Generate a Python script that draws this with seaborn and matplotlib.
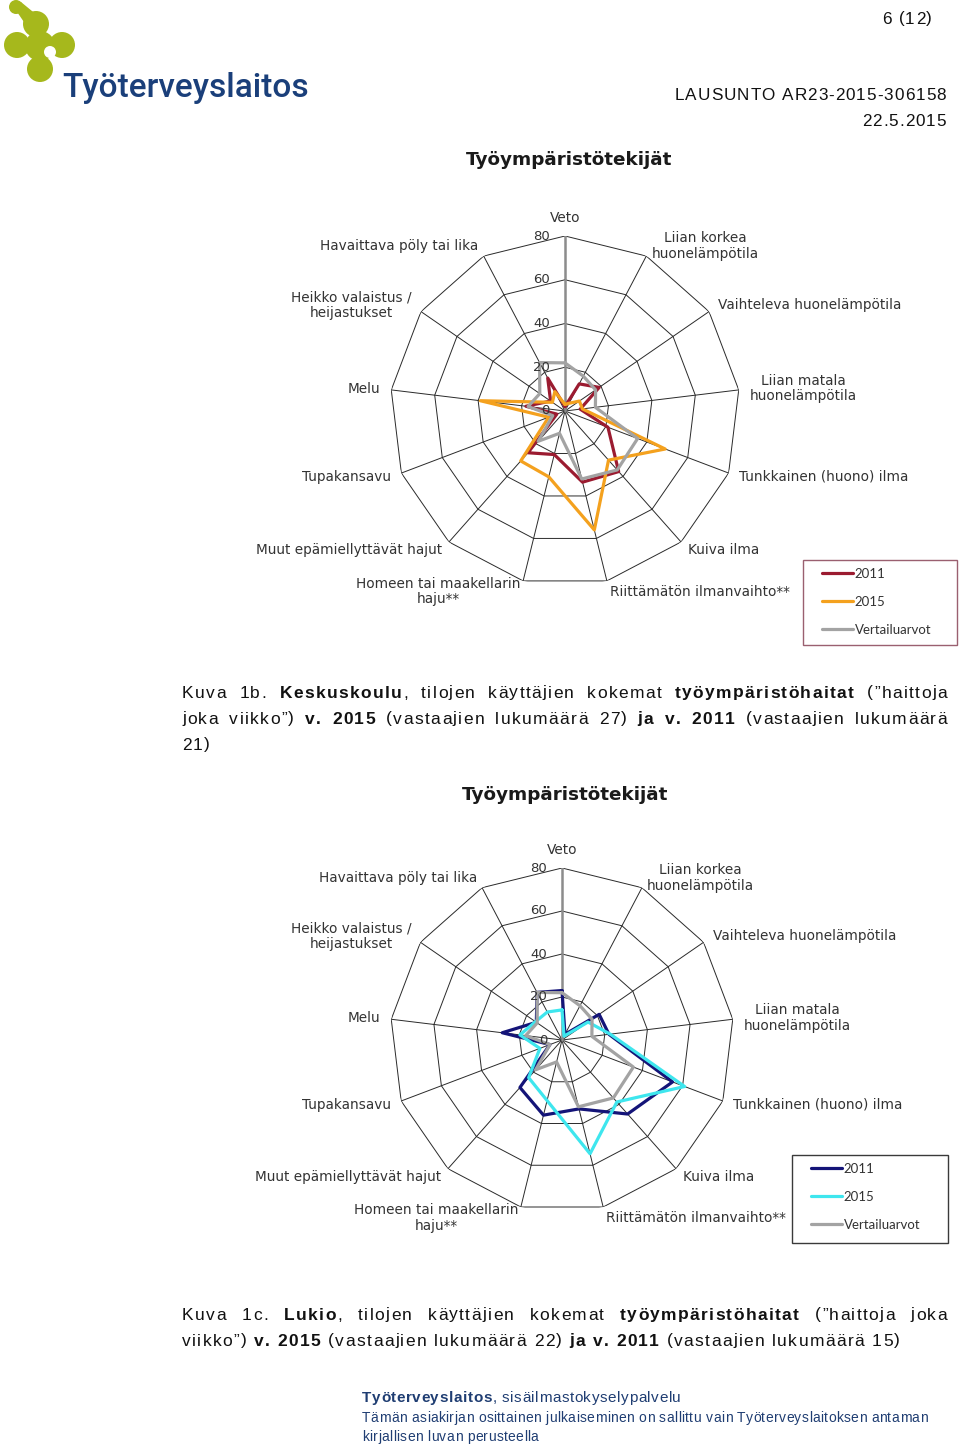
import numpy as np
import pandas as pd
import matplotlib
matplotlib.use("Agg")
import matplotlib.pyplot as plt
import seaborn as sns
from matplotlib.transforms import offset_copy
from matplotlib.patches import Circle, Rectangle, Polygon

# ---------------- data ----------------
categories = [
    "Veto",
    "Liian korkea\nhuonelämpötila",
    "Vaihteleva huonelämpötila",
    "Liian matala\nhuonelämpötila",
    "Tunkkainen (huono) ilma",
    "Kuiva ilma",
    "Riittämätön ilmanvaihto**",
    "Homeen tai maakellarin\nhaju**",
    "Muut epämiellyttävät hajut",
    "Tupakansavu",
    "Melu",
    "Heikko valaistus /\nheijastukset",
    "Havaittava pöly tai lika",
]
ticks = [0, 20, 40, 60, 80]
series_names = ["2011", "2015", "Vertailuarvot"]

keskuskoulu_2011 = [2, 14, 19, 7, 21, 37, 33.5, 20.5, 25.5, 4, 18, 8, 17]
keskuskoulu_2015 = [3, 4, 8, 8, 49, 30, 56, 31, 30.5, 8, 39, 7, 10]
vertailuarvot = [22, 18, 17, 14, 35.5, 36, 32, 10.5, 18.5, 6, 17, 14, 25]
lukio_2011 = [23, 3, 21, 22, 55, 46, 33, 36, 29.5, 6, 28, 14.5, 25]
lukio_2015 = [14, 2, 14.7, 22.6, 61, 38.5, 54.5, 29, 23.4, 11, 19.7, 15, 14.7]

title_text = "Työympäristötekijät"

# ---------------- setup ----------------
sns.set_theme(style="white")
plt.rcParams["font.family"] = ["DejaVu Sans"]

W, H = 960, 1447
fig = plt.figure(figsize=(W / 100, H / 100), dpi=100)
fig.patch.set_facecolor("white")
renderer = fig.canvas.get_renderer()

# overlay in pixel coordinates for page text & logo
ov = fig.add_axes([0, 0, 1, 1], zorder=0)
ov.set_xlim(0, W)
ov.set_ylim(H, 0)
ov.axis("off")

_space_cache = {}


def space_width(size, family, bold):
    key = (size, family, bold)
    if key not in _space_cache:
        fw = "bold" if bold else "normal"
        t = ov.text(0, 0, "a a", fontsize=size, fontfamily=family, fontweight=fw)
        t2 = ov.text(0, 0, "aa", fontsize=size, fontfamily=family, fontweight=fw)
        _space_cache[key] = t.get_window_extent(renderer).width - t2.get_window_extent(renderer).width
        t.remove()
        t2.remove()
    return _space_cache[key]


def make_chars(y, segs, size, family, color):
    """create char artists; return list of (artist or None, width)"""
    out = []
    for txt, b in segs:
        for ch in txt:
            if ch == " ":
                out.append((None, space_width(size, family, b)))
            else:
                a = ov.text(0, y, ch, ha="left", va="center", fontsize=size,
                            fontfamily=family, color=color,
                            fontweight="bold" if b else "normal")
                out.append((a, a.get_window_extent(renderer).width))
    return out


def place_chars(chars, x, track):
    for a, wd in chars:
        if a is not None:
            a.set_x(x)
        x += wd + track
    return x


def chars_width(chars, track):
    return sum(wd for _, wd in chars) + track * max(len(chars) - 1, 0)


def tracked(x, y, segs, size, track, color, family="Liberation Sans", ha="left"):
    chars = make_chars(y, segs, size, family, color)
    tw = chars_width(chars, track)
    start = x if ha == "left" else x - tw
    place_chars(chars, start, track)
    return tw


def radar(cx, cy, R, values, colors, legend_rect, legend_edge, title_xy):
    ax = fig.add_axes([(cx - R) / W, 1 - (cy + R) / H, 2 * R / W, 2 * R / H],
                      projection="polar", zorder=2)
    ax.set_theta_zero_location("N")
    ax.set_theta_direction(-1)
    ax.grid(False)
    ax.set_xticks([])
    ax.set_yticks([])
    ax.spines["polar"].set_visible(False)
    ax.patch.set_alpha(0)
    n = len(categories)
    theta = np.linspace(0, 2 * np.pi, n, endpoint=False)
    closed = np.append(theta, 2 * np.pi)

    # polygon grid
    for t in ticks[1:]:
        ax.plot(closed, [t] * (n + 1), color="#2a2a2a", lw=0.7, zorder=1)
    for th in theta[1:]:
        ax.plot([th, th], [0, ticks[-1]], color="#2a2a2a", lw=0.7, zorder=1)
    ax.plot([0, 0], [0, ticks[-1]], color="#8c8c8c", lw=1.8, zorder=1.5)

    # series
    for name, vals, col in zip(series_names, values, colors):
        v = list(vals) + [vals[0]]
        df = pd.DataFrame({"theta": closed, "value": v})
        sns.lineplot(data=df, x="theta", y="value", ax=ax, sort=False,
                     estimator=None, color=col, lw=2.3, label=name, zorder=3)
    handles, labels = ax.get_legend_handles_labels()
    if ax.get_legend() is not None:
        ax.get_legend().remove()
    ax.set_xlabel("")
    ax.set_ylabel("")
    ax.set_ylim(0, ticks[-1])

    # radial tick labels
    for t in ticks:
        ax.text(0, t, str(t),
                transform=offset_copy(ax.transData, fig=fig, x=-15, y=0, units="dots"),
                ha="right", va="center", fontsize=9.5, color="#333333", zorder=4)

    # category labels
    for th, lab in zip(theta, categories):
        s, c = np.sin(th), np.cos(th)
        dx, dy = 11 * s, 11 * c
        ha = "left" if s > 0.1 else ("right" if s < -0.1 else "center")
        va = "bottom" if c > 0.99 else "center"
        ax.text(th, ticks[-1], lab,
                transform=offset_copy(ax.transData, fig=fig, x=dx, y=dy, units="dots"),
                ha=ha, va=va, fontsize=9.8, color="#333333",
                multialignment="center", linespacing=1.15)

    # title
    ov.text(title_xy[0], title_xy[1], title_text, ha="center", va="center",
            fontsize=13.2, fontweight="bold", color="#1a1a1a")

    # legend
    x0, y0, x1, y1 = legend_rect
    ov.add_patch(Rectangle((x0, y0), x1 - x0, y1 - y0, fill=False,
                           ec=legend_edge, lw=1.0))
    leg = fig.legend(handles, labels, loc="upper left",
                     bbox_to_anchor=((x0 + 19) / W, 1 - (y0 + 8) / H),
                     frameon=False, borderpad=0, borderaxespad=0,
                     handlelength=2.35, handletextpad=0.12, labelspacing=1.2,
                     prop={"family": "Lato", "size": 9.5})
    for txt in leg.get_texts():
        txt.set_color("#333333")
    return ax


radar(565, 411, 175, [keskuskoulu_2011, keskuskoulu_2015, vertailuarvot],
      ["#9b1b30", "#f4a11e", "#a3a3a3"], (803, 560, 957, 645), "#9a6070", (569, 160))
radar(562, 1040, 172, [lukio_2011, lukio_2015, vertailuarvot],
      ["#141478", "#3ee6ee", "#a3a3a3"], (792, 1155, 948, 1243), "#3a3a3a", (565, 795))

# ---------------- header ----------------
tracked(932, 19, [("6 (12)", False)], 12.3, 1.0, "#111111", ha="right")
tracked(946, 96, [("LAUSUNTO AR23-2015-306158", False)], 12.3, 1.0, "#111111", ha="right")
tracked(946, 122, [("22.5.2015", False)], 12.3, 1.0, "#111111", ha="right")

# logo
lime = "#a6b81c"
for (x, y, r) in [(16, 7, 7), (36, 24, 13), (17, 45, 13), (62, 45, 13), (40, 69, 13), (40, 46, 15)]:
    ov.add_patch(Circle((x, y), r, color=lime, lw=0))
ov.add_patch(Polygon([[11, 3], [21, 2], [38, 16], [28, 28]], closed=True, color=lime, lw=0))
ov.add_patch(Circle((50, 52), 6, color="white", lw=0))
ov.text(62, 97, "Työterveyslaitos", ha="left", va="baseline", fontsize=24,
        fontfamily="Roboto", fontweight="medium", color="#1a3f7a")

# ---------------- captions (justified, tracked) ----------------
CAP_SIZE, CAP_TRACK, CAP_FAM, CAP_COL = 12.5, 1.35, "Liberation Sans", "#111111"


def draw_lines(lines, x0, x1, y0, dy):
    for li, words in enumerate(lines):
        y = y0 + li * dy
        word_chars = [make_chars(y, segs, CAP_SIZE, CAP_FAM, CAP_COL) for segs in words]
        widths = [chars_width(ch, CAP_TRACK) for ch in word_chars]
        last = li == len(lines) - 1
        if last or len(words) == 1:
            gap = space_width(CAP_SIZE, CAP_FAM, False) + 2 * CAP_TRACK
        else:
            gap = (x1 - x0 - sum(widths)) / (len(words) - 1)
        x = x0
        for ch, wd in zip(word_chars, widths):
            place_chars(ch, x, CAP_TRACK)
            x += wd + gap


def w(t, b=False):
    return [(t, b)]


cap1 = [
    [w("Kuva"), w("1b."), [("Keskuskoulu", True), (",", False)], w("tilojen"), w("käyttäjien"),
     w("kokemat"), w("työympäristöhaitat", True), w("(”haittoja")],
    [w("joka"), w("viikko”)"), w("v.", True), w("2015", True), w("(vastaajien"), w("lukumäärä"),
     w("27)"), w("ja", True), w("v.", True), w("2011", True), w("(vastaajien"), w("lukumäärä")],
    [w("21)")],
]
draw_lines(cap1, 182, 947, 693, 26)

cap2 = [
    [w("Kuva"), w("1c."), [("Lukio", True), (",", False)], w("tilojen"), w("käyttäjien"),
     w("kokemat"), w("työympäristöhaitat", True), w("(”haittoja"), w("joka")],
    [w("viikko”)"), w("v.", True), w("2015", True), w("(vastaajien"), w("lukumäärä"), w("22)"),
     w("ja", True), w("v.", True), w("2011", True), w("(vastaajien"), w("lukumäärä"), w("15)")],
]
draw_lines(cap2, 182, 947, 1315, 26)

# ---------------- footer ----------------
navy = "#1f3d72"
tracked(362, 1398, [("Työterveyslaitos", True), (", sisäilmastokyselypalvelu", False)],
        11, 0.6, navy)
tracked(362, 1418, [("Tämän asiakirjan osittainen julkaiseminen on sallittu vain Työterveyslaitoksen antaman", False)],
        10, 0.35, navy)
tracked(362, 1437, [("kirjallisen luvan perusteella", False)], 10, 0.35, navy)

fig.savefig("out.png", dpi=100, facecolor="white")
